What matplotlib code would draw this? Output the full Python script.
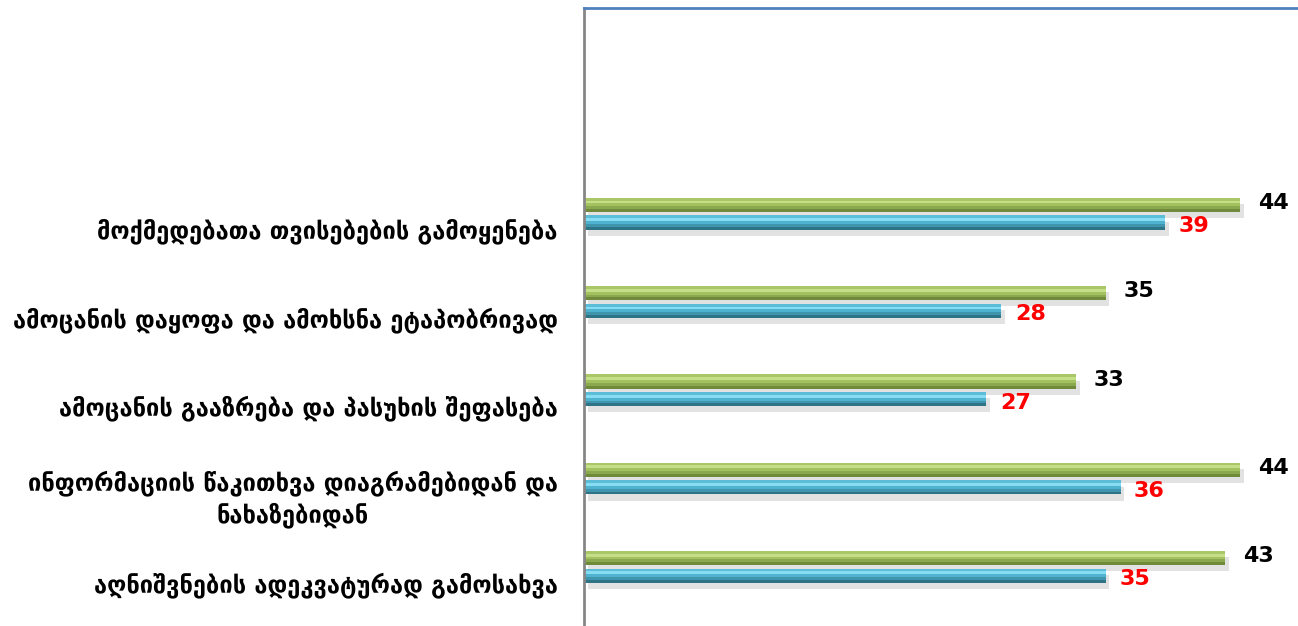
import numpy as np
import matplotlib.pyplot as plt

categories = [
    "აღნიშვნების ადეკვატურად გამოსახვა",
    "ინფორმაციის წაკითხვა დიაგრამებიდან და\nნახაზებიდან",
    "ამოცანის გააზრება და პასუხის შეფასება",
    "ამოცანის დაყოფა და ამოხსნა ეტაპობრივად",
    "მოქმედებათა თვისებების გამოყენება",
    "",
    "",
]
green_vals = [43, 44, 33, 35, 44]
blue_vals = [35, 36, 27, 28, 39]

plt.rcParams['font.family'] = ['DejaVu Sans']

fig = plt.figure(figsize=(12.98, 6.26), dpi=100)
ax = fig.add_axes([584 / 1298, 0, 1 - 584 / 1298, 1 - 8 / 626])

y = np.arange(len(categories))
yb = y[:len(blue_vals)]
h = 0.16

def shaded_bars(ypos, vals, colors):
    # shadow below, then slices from dark bottom to light top
    ax.barh(ypos - 0.07, vals, height=h, left=0.25, color='#d0d0d0', alpha=0.6, zorder=1)
    n = len(colors)
    for k, c in enumerate(colors):
        ax.barh(ypos - h / 2 + h * (k + 0.5) / n, vals, height=h / n, color=c, zorder=2, linewidth=0)

shaded_bars(yb + 0.27, green_vals, ['#6e8a3a', '#8aa84e', '#a3c25f', '#c5df88', '#a9c766'])
shaded_bars(yb + 0.07, blue_vals, ['#2f7386', '#3e95ad', '#4fb3cf', '#86dcf2', '#5bbdd8'])

for yy, v in zip(yb, green_vals):
    ax.text(v + 1.2, yy + 0.29, str(v), fontsize=16, fontweight='bold', color='black', va='center', ha='left')
for yy, v in zip(yb, blue_vals):
    ax.text(v + 0.9, yy + 0.03, str(v), fontsize=16, fontweight='bold', color='#ff0000', va='center', ha='left')

ax.set_xlim(0, 47.9)
ax.set_ylim(-0.5, len(categories) - 0.5)
ax.set_yticks(y)
ax.set_yticklabels(categories, fontsize=17, fontweight='bold', multialignment='center', linespacing=1.3)
ax.tick_params(axis='y', length=0, pad=19)
ax.set_xticks([])

for s in ['right', 'bottom']:
    ax.spines[s].set_visible(False)
ax.spines['left'].set_color('#868686')
ax.spines['left'].set_linewidth(2)
ax.spines['top'].set_color('#4f81bd')
ax.spines['top'].set_linewidth(2)

fig.savefig('out.png', dpi=100)
